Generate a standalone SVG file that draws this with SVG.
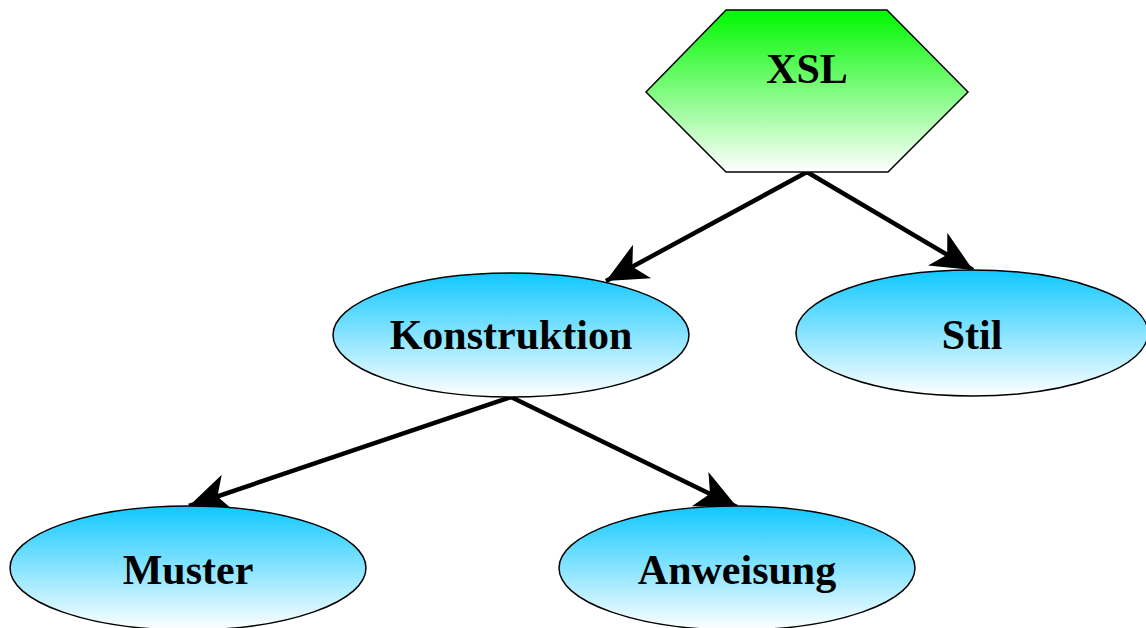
<svg xmlns="http://www.w3.org/2000/svg" width="1146" height="628" viewBox="0 0 1146 628">
  <defs>
    <linearGradient id="gGreen" x1="0" y1="0" x2="0" y2="1">
      <stop offset="0" stop-color="#00f800"/>
      <stop offset="1" stop-color="#ffffff"/>
    </linearGradient>
    <linearGradient id="gBlue" x1="0" y1="0" x2="0" y2="1">
      <stop offset="0" stop-color="#10c8ff"/>
      <stop offset="1" stop-color="#ffffff"/>
    </linearGradient>
    <marker id="arrow" markerUnits="userSpaceOnUse" markerWidth="50" markerHeight="50" viewBox="-45 -25 50 50" refX="0" refY="0" orient="auto" overflow="visible">
      <path d="M0,0 L-41,-19 L-30,0 L-41,19 Z" fill="#000"/>
    </marker>
    <style>
      .ell { fill: url(#gBlue); stroke: #000; stroke-width: 1.5; }
      .hex { fill: url(#gGreen); stroke: #000; stroke-width: 1.5; }
      .lbl { font-family: "Liberation Serif", "Times New Roman", serif; font-weight: bold; font-size: 42px; fill: #000; text-anchor: middle; }
      .edge { stroke: #000; stroke-width: 4.5; fill: none; marker-end: url(#arrow); }
    </style>
  </defs>

  <rect width="1146" height="628" fill="#fff"/>

  <g id="connectors">
    <line class="edge" x1="807" y1="172" x2="606" y2="281"/>
    <line class="edge" x1="807" y1="172" x2="973" y2="270"/>
    <line class="edge" x1="511" y1="397" x2="189" y2="506"/>
    <line class="edge" x1="511" y1="397" x2="737" y2="507"/>
  </g>

  <g id="node-xsl">
    <polygon class="hex" points="726,10 887,10 968,92 888,172 726,172 646,92"/>
    <text class="lbl" x="807" y="83">XSL</text>
  </g>

  <g id="node-konstruktion">
    <ellipse class="ell" cx="511" cy="335" rx="178" ry="62"/>
    <text class="lbl" x="511" y="349">Konstruktion</text>
  </g>

  <g id="node-stil">
    <ellipse class="ell" cx="972" cy="333" rx="176" ry="63"/>
    <text class="lbl" x="972" y="349">Stil</text>
  </g>

  <g id="node-muster">
    <ellipse class="ell" cx="188" cy="568" rx="178" ry="62"/>
    <text class="lbl" x="188" y="584">Muster</text>
  </g>

  <g id="node-anweisung">
    <ellipse class="ell" cx="737" cy="568" rx="178" ry="62"/>
    <text class="lbl" x="737" y="584">Anweisung</text>
  </g>
</svg>
